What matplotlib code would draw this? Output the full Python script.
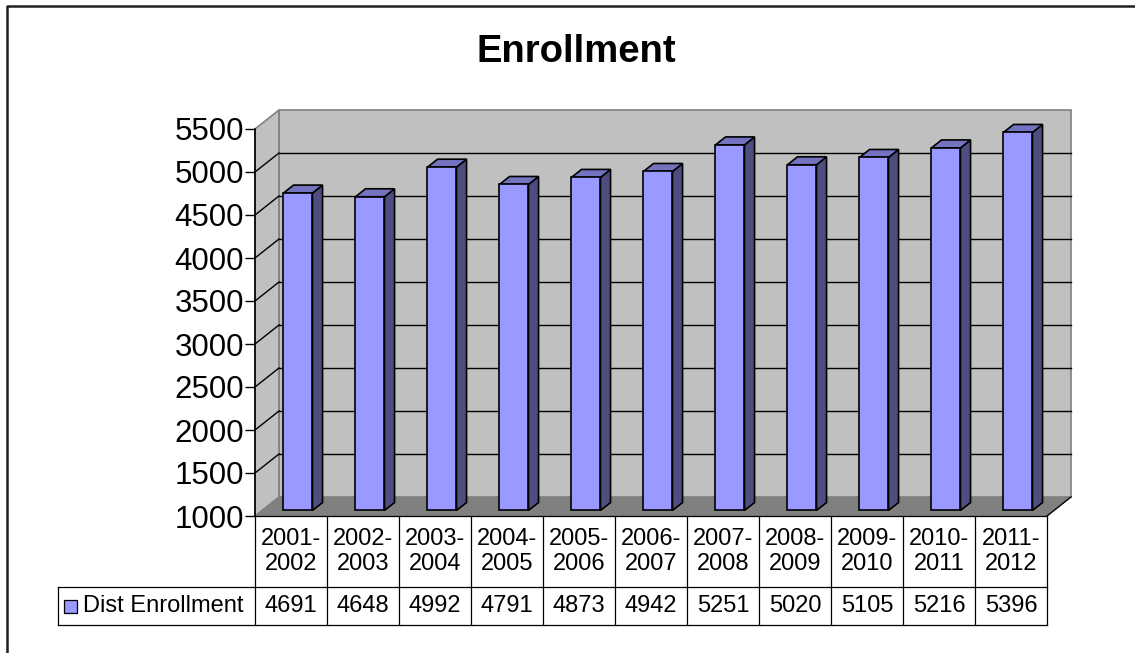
import matplotlib
matplotlib.use("Agg")
import matplotlib.pyplot as plt
from matplotlib.patches import Polygon, Rectangle
from matplotlib.lines import Line2D
import numpy as np

plt.rcParams['font.family'] = ['Liberation Sans', 'DejaVu Sans']

# ---- data ----
categories = ["2001-\n2002", "2002-\n2003", "2003-\n2004", "2004-\n2005", "2005-\n2006",
              "2006-\n2007", "2007-\n2008", "2008-\n2009", "2009-\n2010", "2010-\n2011",
              "2011-\n2012"]
enrollment = [4691, 4648, 4992, 4791, 4873, 4942, 5251, 5020, 5105, 5216, 5396]
series_name = "Dist Enrollment"
y_ticks = [1000, 1500, 2000, 2500, 3000, 3500, 4000, 4500, 5000, 5500]
title = "Enrollment"

# ---- styling ----
W, H = 1135, 653
FRONT = "#9999ff"
SIDE = "#4d4d80"
TOP = "#7373c0"
WALL = "#c0c0c0"
FLOOR = "#808080"

fig = plt.figure(figsize=(W / 100, H / 100), dpi=100)
fig.patch.set_facecolor("white")

# front plane of the 3D plot
ax = fig.add_axes([255 / W, (H - 516) / H, (1047 - 255) / W, (516 - 129) / H])
n = len(categories)
x = np.arange(n)
ax.set_xlim(-0.5, n - 0.5)
ax.set_ylim(y_ticks[0], y_ticks[-1])
ax.set_facecolor("none")

# depth offset (pixels -> data units)
p0 = ax.transData.transform((0, y_ticks[0]))
p1 = ax.transData.transform((1, y_ticks[0] + 1000))
px_per_x = p1[0] - p0[0]
px_per_y = (p1[1] - p0[1]) / 1000.0
DDX = 24 / px_per_x
DDY = 19 / px_per_y

x0, x1 = -0.5, n - 0.5
y0, y1 = y_ticks[0], y_ticks[-1]

# back wall
ax.add_patch(Polygon([(x0 + DDX, y0 + DDY), (x1 + DDX, y0 + DDY), (x1 + DDX, y1 + DDY),
                      (x0 + DDX, y1 + DDY)], closed=True, facecolor=WALL,
                     edgecolor="#808080", lw=1.2, clip_on=False, zorder=1))
# side wall
ax.add_patch(Polygon([(x0, y0), (x0 + DDX, y0 + DDY), (x0 + DDX, y1 + DDY), (x0, y1)],
                     closed=True, facecolor=WALL, edgecolor="#808080", lw=1.2,
                     clip_on=False, zorder=1))
# floor
ax.add_patch(Polygon([(x0, y0), (x1, y0), (x1 + DDX, y0 + DDY), (x0 + DDX, y0 + DDY)],
                     closed=True, facecolor=FLOOR, edgecolor="none", clip_on=False, zorder=1))
ax.add_line(Line2D([x1, x1 + DDX], [y0, y0 + DDY], color="black", lw=1.0,
                   clip_on=False, zorder=2))

# gridlines on back wall and side wall
for t in y_ticks[1:-1]:
    ax.add_line(Line2D([x0 + DDX, x1 + DDX], [t + DDY, t + DDY], color="black", lw=1.0,
                       clip_on=False, zorder=2))
    ax.add_line(Line2D([x0, x0 + DDX], [t, t + DDY], color="black", lw=1.0,
                       clip_on=False, zorder=2))

# bars
bw = 0.403
f_front = 0.29
f_depth = 0.42
fx, fy = f_front * DDX, f_front * DDY
bx, by = f_depth * DDX, f_depth * DDY
for xi, v in zip(x, enrollment):
    xl = xi - bw / 2 + fx
    xr = xi + bw / 2 + fx
    yb = y0 + fy
    yt = v + fy
    ax.add_patch(Polygon([(xr, yb), (xr, yt), (xr + bx, yt + by), (xr + bx, yb + by)],
                         closed=True, facecolor=SIDE, edgecolor="black", lw=1.2,
                         clip_on=False, zorder=3))
    ax.add_patch(Polygon([(xl, yt), (xr, yt), (xr + bx, yt + by), (xl + bx, yt + by)],
                         closed=True, facecolor=TOP, edgecolor="black", lw=1.2,
                         clip_on=False, zorder=3))
ax.bar(x + fx, [v - y0 for v in enrollment], bottom=y0 + fy, width=bw, color=FRONT,
       edgecolor="black", lw=1.2, zorder=4, clip_on=False)

# axis
for s in ["top", "right", "bottom"]:
    ax.spines[s].set_visible(False)
ax.spines["left"].set_color("black")
ax.spines["left"].set_linewidth(1.2)
ax.spines["left"].set_zorder(5)
ax.set_xticks([])
ax.set_yticks(y_ticks)
ax.set_yticklabels([str(t) for t in y_ticks])
ax.tick_params(axis="y", direction="out", length=7, width=1.0, pad=1, labelsize=22.5,
               colors="black")

# ---- data table ----
tab = fig.add_axes([58 / W, (H - 625) / H, (1047 - 58) / W, (625 - 516) / H])
left_units = (255 - 58) / px_per_x
tab.set_xlim(-0.5 - left_units, n - 0.5)
tab.set_ylim(0, 1)
tab.axis("off")
row_split = 38 / 109
lc = "black"
lw = 0.9
# horizontal lines
tab.add_line(Line2D([-0.5, n - 0.5], [1, 1], color=lc, lw=lw, clip_on=False))
tab.add_line(Line2D([-0.5 - left_units, n - 0.5], [row_split, row_split], color=lc, lw=lw,
                    clip_on=False))
tab.add_line(Line2D([-0.5 - left_units, n - 0.5], [0, 0], color=lc, lw=lw, clip_on=False))
# vertical lines
for b in np.arange(n + 1) - 0.5:
    tab.add_line(Line2D([b, b], [0, 1], color=lc, lw=lw, clip_on=False))
tab.add_line(Line2D([-0.5 - left_units] * 2, [0, row_split], color=lc, lw=lw, clip_on=False))

for xi, c, v in zip(x, categories, enrollment):
    tab.text(xi, (1 + row_split) / 2, c, ha="center", va="center", multialignment="center",
             fontsize=17, linespacing=1.2)
    tab.text(xi, row_split / 2, str(v), ha="center", va="center", fontsize=17)

# legend key in table
sw = 13 / px_per_x
tab.add_patch(Rectangle((-0.5 - left_units + 6 / px_per_x, row_split / 2 - 6.5 / 109), sw,
                        13 / 109, facecolor=FRONT, edgecolor="black", lw=0.9, clip_on=False))
tab.text(-0.5 - left_units + 25 / px_per_x, row_split / 2, series_name, ha="left",
         va="center", fontsize=17)

# title
fig.text(576 / W, (H - 62) / H, title, ha="center", va="baseline", fontsize=27.5,
         fontweight="bold")

# outer chart border (left and top)
fig.add_artist(Line2D([7 / W, 7 / W, 1.0], [0.0, (H - 6) / H, (H - 6) / H],
                      transform=fig.transFigure, color="#202020", lw=1.8))

fig.savefig("out.png", dpi=100)
